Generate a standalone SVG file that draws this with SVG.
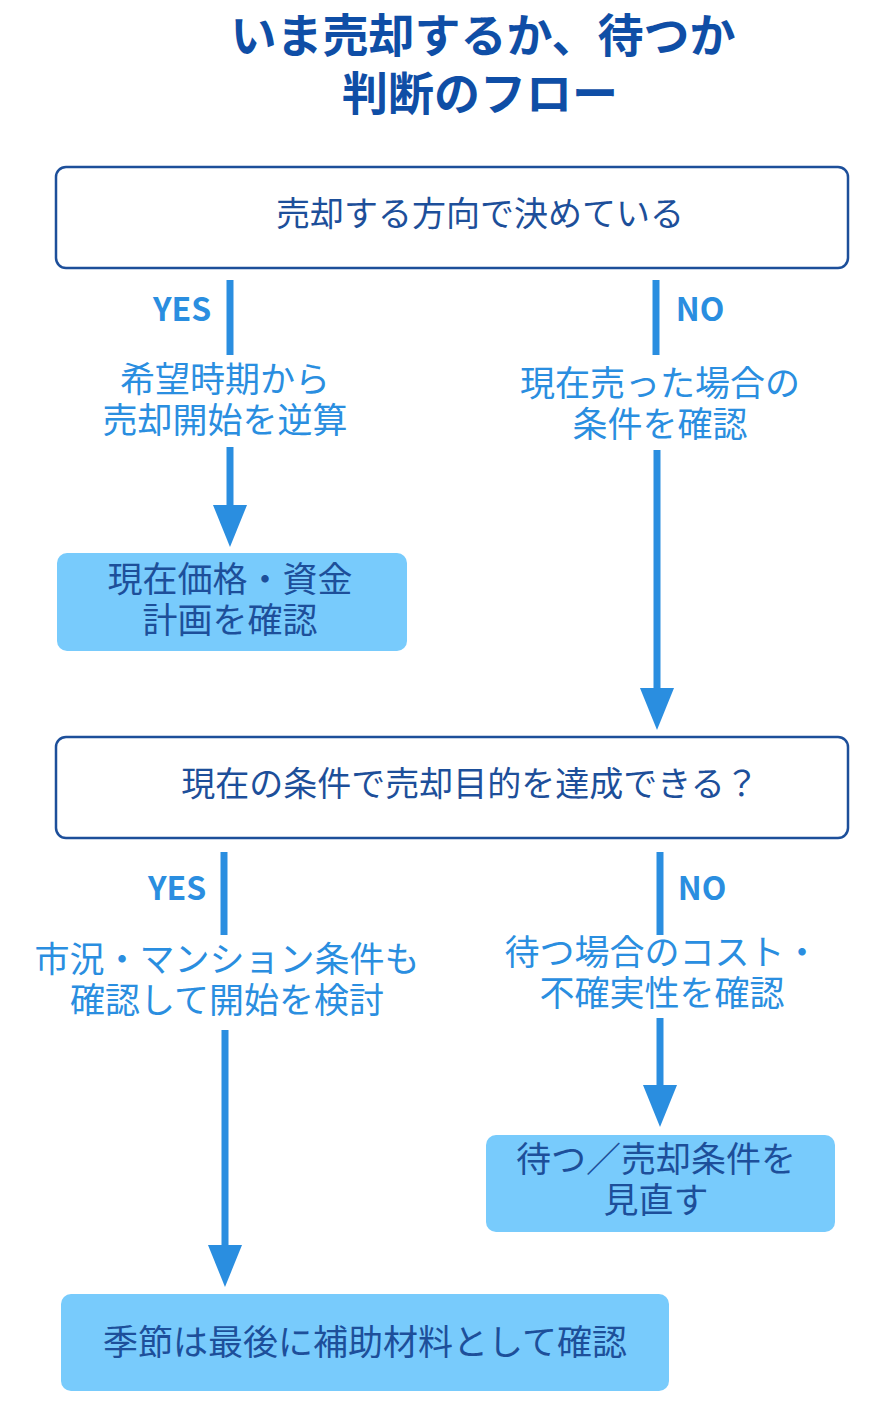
<svg xmlns="http://www.w3.org/2000/svg" width="890" height="1413" viewBox="0 0 890 1413">
<style>
text{font-family:"Noto Sans CJK JP","Noto Sans",sans-serif;text-anchor:middle;dominant-baseline:middle}
.t{font-size:46px;font-weight:bold;fill:#0f4ea6}
.q{fill:#fff;stroke:#1d4f9a;stroke-width:2.5}
.qt{font-size:34px;fill:#1d4f9a}
.r{fill:#78cbfc}
.rt{font-size:35px;fill:#1d4f9a}
.l{font-size:35px;fill:#2a8ee0}
.y{font-size:32px;font-weight:bold;fill:#2a8ee0}
.c{stroke:#2a8ee0;stroke-width:7;fill:none}
.h{fill:#2a8ee0}
</style>
<text class="t" x="483" y="40">いま売却するか、待つか</text>
<text class="t" x="480" y="98">判断のフロー</text>
<g id="n1"><rect class="q" x="56" y="167" width="792" height="101" rx="10"/><text class="qt" x="480" y="217">売却する方向で決めている</text></g>
<g id="n2"><text class="l" x="225" y="382">希望時期から</text><text class="l" x="225" y="423">売却開始を逆算</text></g>
<g id="n3"><rect class="r" x="57" y="553" width="350" height="98" rx="10"/><text class="rt" x="230" y="582">現在価格・資金</text><text class="rt" x="230" y="623">計画を確認</text></g>
<g id="n4"><text class="l" x="660" y="386">現在売った場合の</text><text class="l" x="660" y="427">条件を確認</text></g>
<g id="n5"><rect class="q" x="56" y="737" width="792" height="101" rx="10"/><text class="qt" x="470" y="787">現在の条件で売却目的を達成できる？</text></g>
<g id="n6"><text class="l" x="227" y="962">市況・マンション条件も</text><text class="l" x="227" y="1003">確認して開始を検討</text></g>
<g id="n7"><text class="l" x="662" y="955">待つ場合のコスト・</text><text class="l" x="662" y="996">不確実性を確認</text></g>
<g id="n8"><rect class="r" x="486" y="1135" width="349" height="97" rx="10"/><text class="rt" x="656" y="1162">待つ／売却条件を</text><text class="rt" x="656" y="1203">見直す</text></g>
<g id="n9"><rect class="r" x="61" y="1294" width="608" height="97" rx="10"/><text class="rt" x="365" y="1345">季節は最後に補助材料として確認</text></g>
<g id="connectors">
<text class="y" x="182" y="312">YES</text><path class="c" d="M230,280V355"/>
<path class="c" d="M230,447V510"/><polygon class="h" points="213,505 247,505 230,547"/>
<text class="y" x="700" y="312">NO</text><path class="c" d="M656,280V355"/>
<path class="c" d="M657,450V693"/><polygon class="h" points="640,688 674,688 657,730"/>
<text class="y" x="177" y="891">YES</text><path class="c" d="M224,852V935"/>
<path class="c" d="M225,1030V1250"/><polygon class="h" points="208,1245 242,1245 225,1287"/>
<text class="y" x="702" y="891">NO</text><path class="c" d="M660,852V935"/>
<path class="c" d="M660,1018V1090"/><polygon class="h" points="643,1085 677,1085 660,1127"/>
</g>
</svg>
